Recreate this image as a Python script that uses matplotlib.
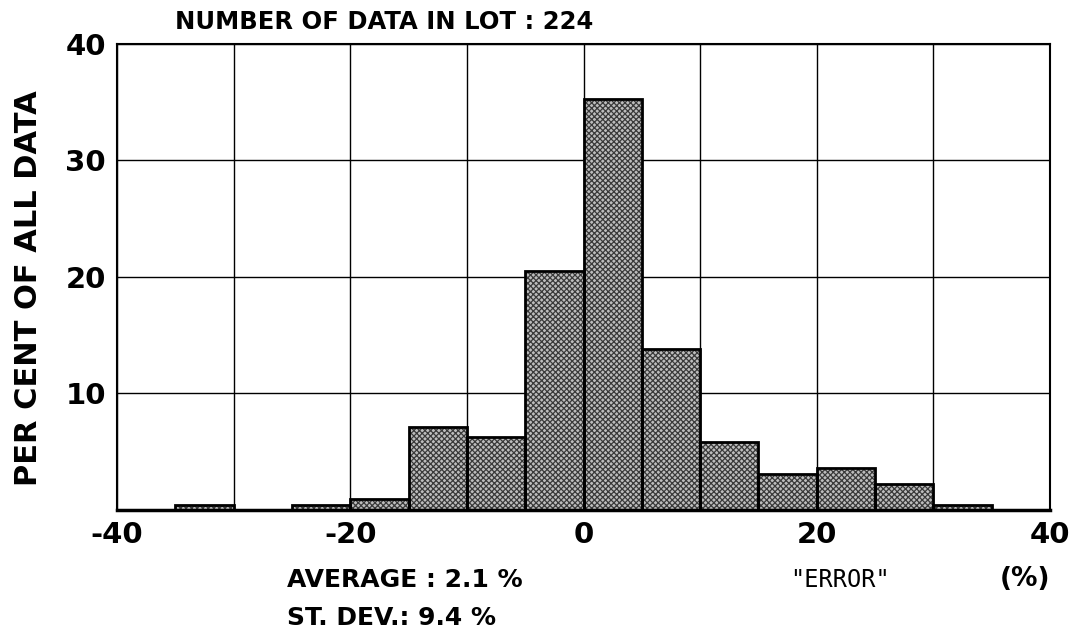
import matplotlib
matplotlib.use("Agg")
import matplotlib.pyplot as plt

# Data
bin_left = [-35, -30, -25, -20, -15, -10, -5, 0, 5, 10, 15, 20, 25, 30]
percent = [0.45, 0.0, 0.45, 0.9, 7.1, 6.25, 20.5, 35.3, 13.8, 5.8, 3.1, 3.6, 2.2, 0.45]
bin_width = 5
xticks = [-40, -20, 0, 20, 40]
yticks = [10, 20, 30, 40]
title_text = "NUMBER OF DATA IN LOT : 224"
avg_text = "AVERAGE : 2.1 %"
sd_text = "ST. DEV.: 9.4 %"

fig = plt.figure(figsize=(10.84, 6.41), dpi=100)
ax = fig.add_axes([0.108, 0.2044, 0.8606, 0.727])

plt.rcParams['hatch.linewidth'] = 0.9
ax.bar(bin_left, percent, width=bin_width, align='edge', color='#bdbdbd',
       hatch='xxxxxx', edgecolor='#3a3a3a', linewidth=0, zorder=2)
ax.bar(bin_left, percent, width=bin_width, align='edge', fill=False,
       edgecolor='black', linewidth=2.0, zorder=3)

ax.set_xlim(-40, 40)
ax.set_ylim(0, 40)
ax.set_xticks(range(-40, 41, 10))
ax.set_xticklabels([str(v) if v in xticks else "" for v in range(-40, 41, 10)])
ax.set_yticks([0] + yticks)
ax.set_yticklabels([""] + [str(v) for v in yticks])
ax.grid(True, color='black', linewidth=1.0, zorder=1)
ax.set_axisbelow(True)
ax.tick_params(length=0, labelsize=21, pad=8)
for lab in ax.get_xticklabels() + ax.get_yticklabels():
    lab.set_fontweight('bold')
for s in ax.spines.values():
    s.set_linewidth(1.5)
ax.spines['bottom'].set_linewidth(2.5)

fig.text(0.026, 0.55, "PER CENT OF ALL DATA", rotation=90, ha='center', va='center',
         fontsize=22, fontweight='bold')
fig.text(0.161, 0.965, title_text, ha='left', va='center', fontsize=17.5,
         fontweight='bold')
fig.text(0.265, 0.095, avg_text, ha='left', va='center', fontsize=18,
         fontweight='bold')
fig.text(0.265, 0.036, sd_text, ha='left', va='center', fontsize=18,
         fontweight='bold')
fig.text(0.729, 0.095, '"ERROR"', ha='left', va='center', fontsize=17,
         family='DejaVu Sans Mono')
fig.text(0.969, 0.097, "(%)", ha='right', va='center', fontsize=19,
         fontweight='bold')

fig.savefig("out.png", dpi=100)
